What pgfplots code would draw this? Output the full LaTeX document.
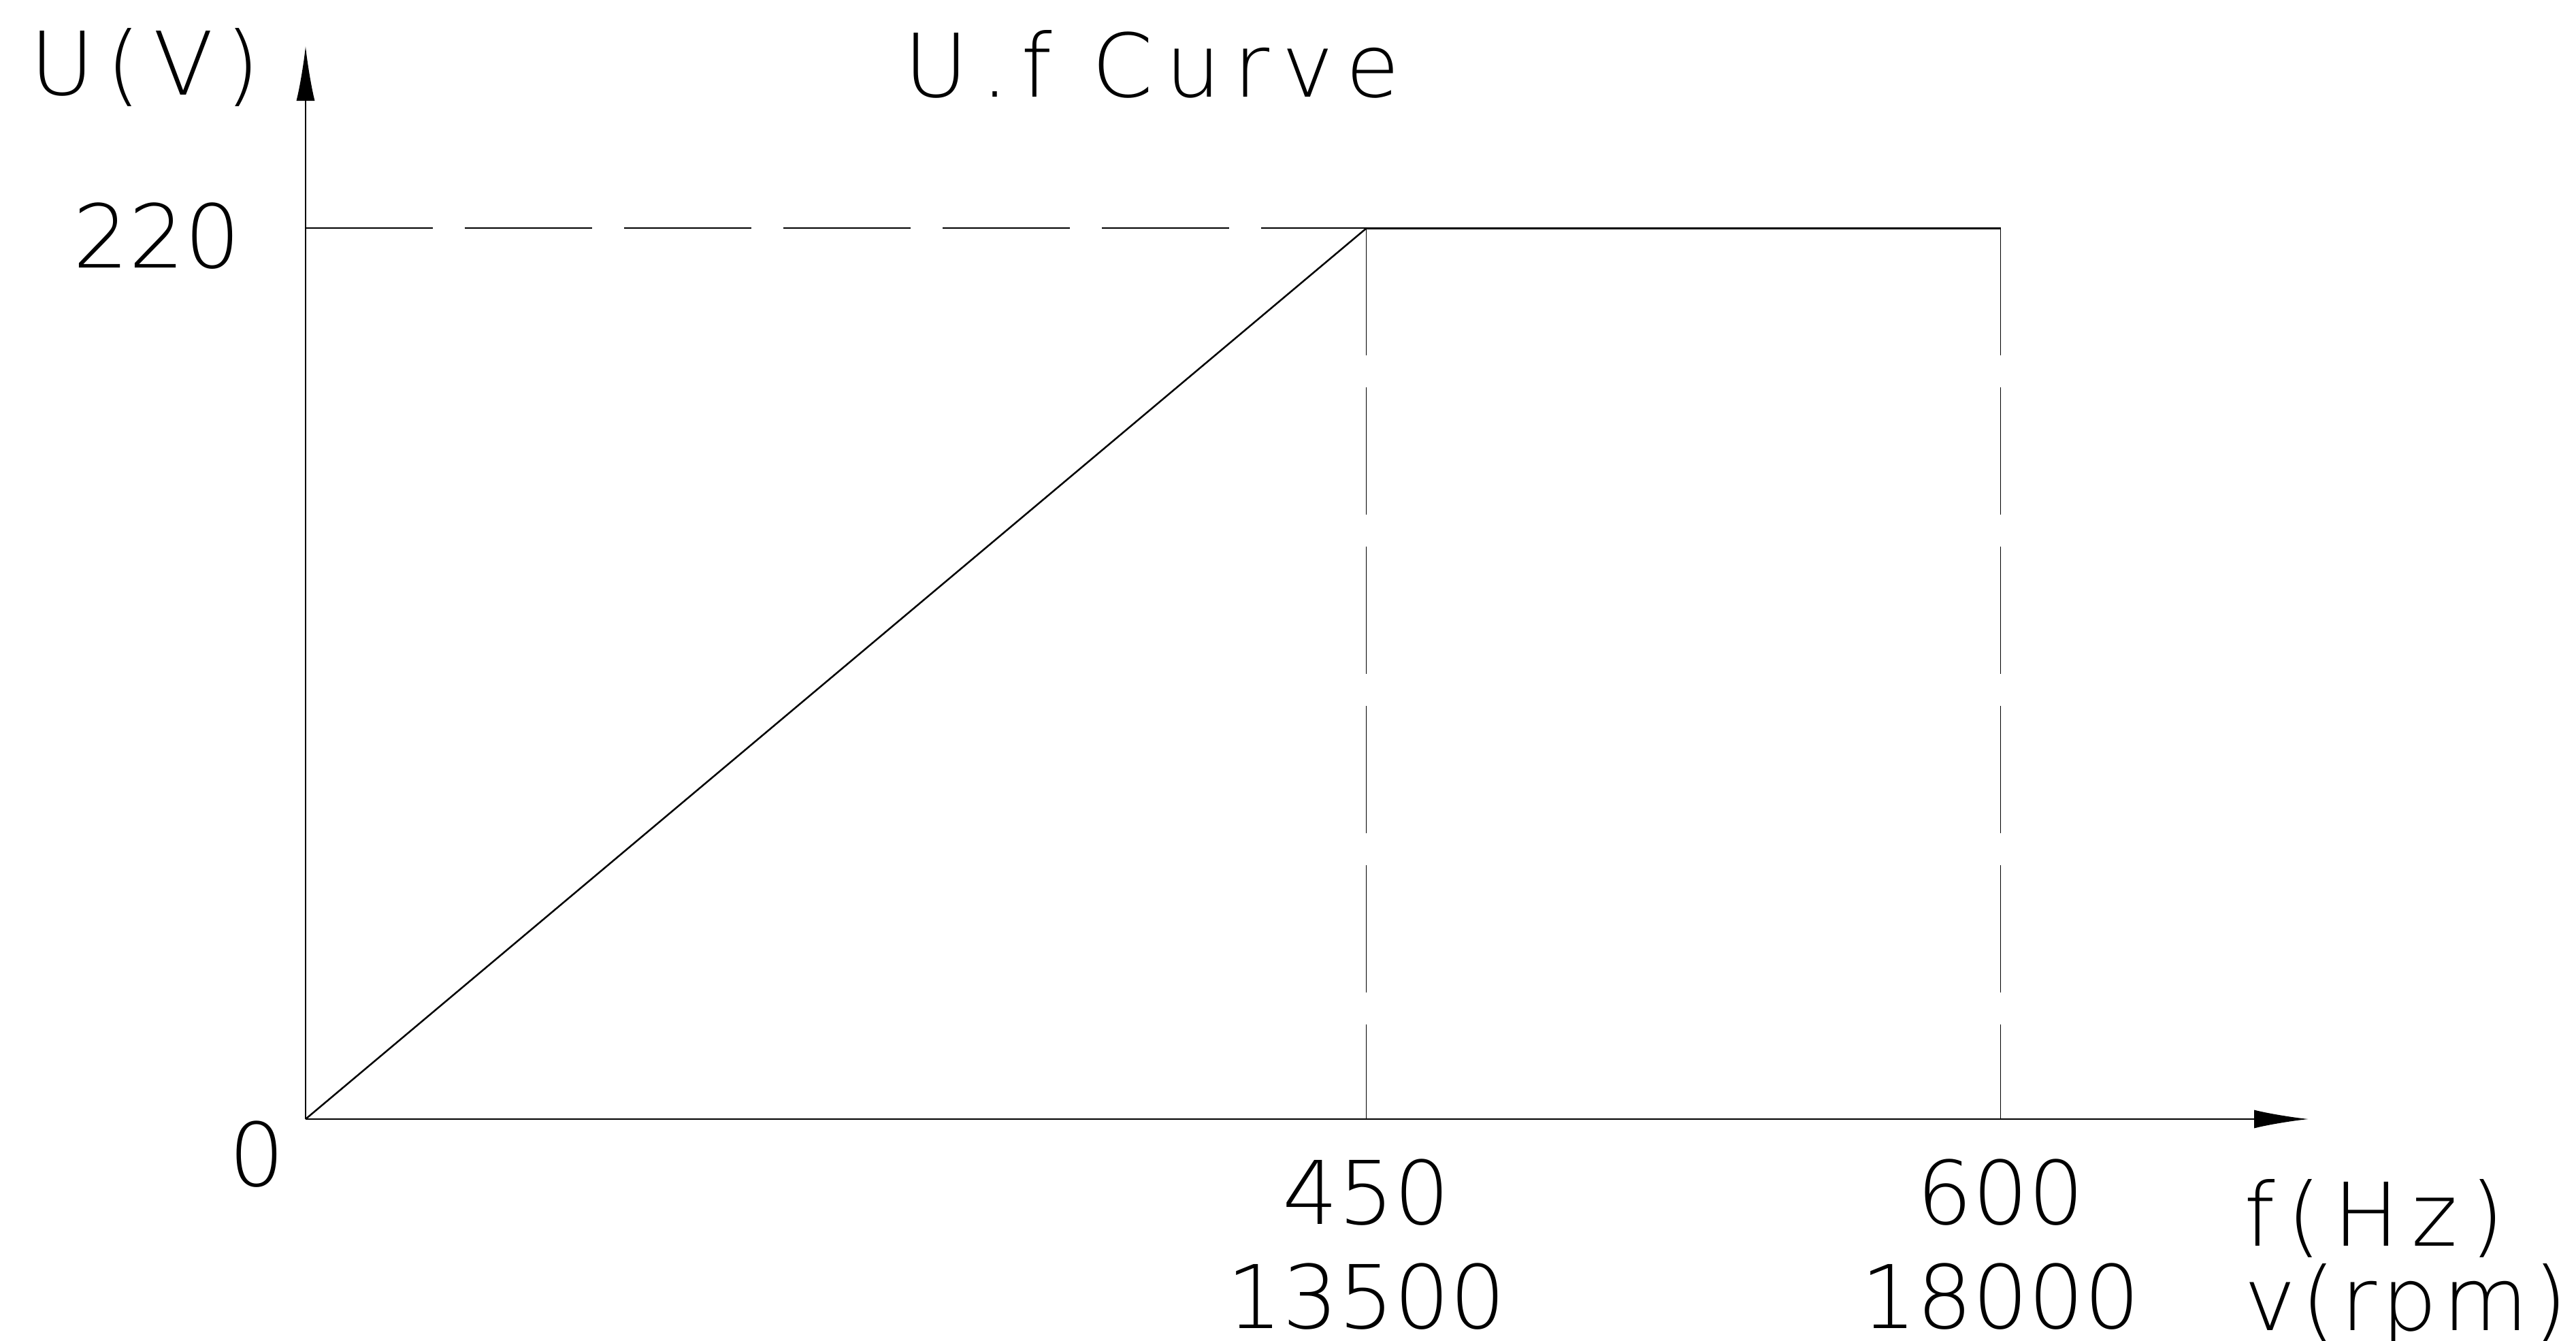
\documentclass[border=0pt]{standalone}
\usepackage{fontspec}
\usepackage{pgfplots}
\pgfplotsset{compat=1.18}
\usetikzlibrary{arrows.meta}
\IfFontExistsTF{DejaVu Sans ExtraLight}{\newfontfamily\cad{DejaVu Sans ExtraLight}}{\newfontfamily\cad{DejaVu Sans Mono}}
\IfFontExistsTF{DejaVu Sans ExtraLight}{\newfontfamily\cadwide{DejaVu Sans ExtraLight}[LetterSpace=14]}{\newfontfamily\cadwide{DejaVu Sans Mono}}
\IfFontExistsTF{DejaVu Sans ExtraLight}{\newfontfamily\cadmid{DejaVu Sans ExtraLight}[LetterSpace=6]}{\newfontfamily\cadmid{DejaVu Sans Mono}}
\setmainfont{DejaVu Sans}
\newcommand{\cadfont}{\cad\fontsize{12.9bp}{15.3bp}\selectfont}
\newcommand{\cadwidefont}{\cadwide\fontsize{12.9bp}{15.3bp}\selectfont}
\begin{document}
\begin{tikzpicture}
\begin{axis}[
  at={(0,0)}, anchor=south west,
  scale only axis, width=294.3bp, height=157.6bp,
  axis lines=left,
  clip=false,
  x coord trafo/.code={\pgfmathparse{#1+0.7933*max(#1-450,0)}},
  x coord inv trafo/.code={\pgfmathparse{#1-0.44237*max(#1-450,0)}},
  xmin=0, xmax=672.8, ymin=0, ymax=264.9,
  axis line style={line width=0.22bp, -{Latex[length=8bp,width=2.7bp]}},
  x axis line style={line width=0.28bp},
  major tick length=0pt,
  tick style={draw=none},
  xtick={450,600},
  xticklabels={{450\\13500},{600\\18000}},
  xticklabel style={align=center, anchor=center, inner sep=0pt, yshift=-18.45bp, font=\cadfont},
  ytick={220},
  yticklabels={220},
  yticklabel style={anchor=center, inner sep=0pt, xshift=-21.8bp, yshift=-1.1bp, font=\cadfont},
  extra y ticks={0},
  extra y tick labels={0},
  extra y tick style={yticklabel style={xshift=14.7bp, yshift=-4.1bp}},
  title={U.f Curve},
  title style={at={(0.4227,1)}, anchor=base, inner sep=0pt, yshift=-13.38bp, font=\cadwidefont},
  xlabel={f(Hz)\\{\cadmid\fontsize{12.9bp}{12.4bp}\selectfont v(rpm)}},
  xlabel style={at={(1,0)}, anchor=north west, align=left, inner sep=0pt, xshift=-9.7bp, yshift=-8.6bp, font=\cadwide\fontsize{12.9bp}{12.4bp}\selectfont},
  ylabel={U(V)},
  ylabel style={rotate=-90, at={(0,1)}, anchor=base east, inner sep=0pt, xshift=-6.5bp, yshift=-7.2bp, font=\cadwidefont},
]
% dashed guide lines
\addplot[black, line width=0.2bp, dash pattern=on 18.7bp off 4.7bp] coordinates {(0,220) (450,220)};
\addplot[black, line width=0.12bp, dash pattern=on 18.7bp off 4.7bp] coordinates {(450,220) (450,0)};
\addplot[black, line width=0.12bp, dash pattern=on 18.7bp off 4.7bp] coordinates {(600,220) (600,0)};
% U/f curve
\addplot[black, line width=0.25bp] coordinates {(0,0) (450,220)};
\addplot[black, line width=0.3bp] coordinates {(450,220) (600,220)};
\end{axis}
\pgfresetboundingbox
\useasboundingbox (-44.9bp,-32.6bp) rectangle (333.6bp,164.4bp);
\end{tikzpicture}
\end{document}
